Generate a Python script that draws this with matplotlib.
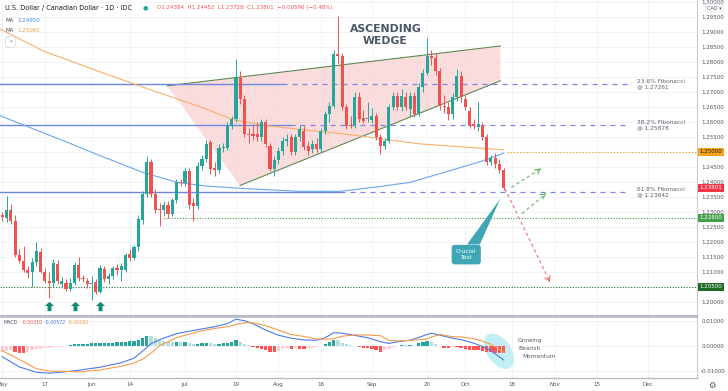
import numpy as np
import matplotlib.pyplot as plt
from matplotlib.patches import Polygon, Ellipse
from matplotlib.transforms import ScaledTranslation

plt.rcParams['font.family'] = ['DejaVu Sans']

# daily USD/CAD candles, bar 0 = 3 May 2021 ... bar 118 = 14 Oct 2021
opens = [
    1.2290, 1.2278, 1.2305, 1.2268, 1.2155, 1.2136, 1.2105, 1.2100, 1.2133, 1.2166,
    1.2100, 1.2069, 1.2063, 1.2127, 1.2058, 1.2063, 1.2044, 1.2063, 1.2122, 1.2079,
    1.2070, 1.2058, 1.2066, 1.2033, 1.2108, 1.2076, 1.2085, 1.2112, 1.2106, 1.2105,
    1.2160, 1.2145, 1.2183, 1.2271, 1.2360, 1.2465, 1.2360, 1.2310, 1.2305, 1.2321,
    1.2294, 1.2338, 1.2399, 1.2395, 1.2437, 1.2330, 1.2318, 1.2454, 1.2476, 1.2531,
    1.2447, 1.2439, 1.2513, 1.2513, 1.2587, 1.2609, 1.2747, 1.2675, 1.2559, 1.2559,
    1.2559, 1.2548, 1.2598, 1.2520, 1.2443, 1.2471, 1.2504, 1.2537, 1.2548, 1.2498,
    1.2548, 1.2570, 1.2520, 1.2509, 1.2526, 1.2509, 1.2570, 1.2626, 1.2653, 1.2825,
    1.2820, 1.2648, 1.2590, 1.2587, 1.2681, 1.2614, 1.2609, 1.2606, 1.2620, 1.2548,
    1.2520, 1.2537, 1.2648, 1.2687, 1.2648, 1.2681, 1.2642, 1.2687, 1.2630, 1.2715,
    1.2764, 1.2819, 1.2814, 1.2769, 1.2653, 1.2648, 1.2626, 1.2681, 1.2753, 1.2675,
    1.2637, 1.2592, 1.2581, 1.2587, 1.2548, 1.2465, 1.2478, 1.2460, 1.24384]
highs = [
    1.2300, 1.2351, 1.2325, 1.2290, 1.2175, 1.2185, 1.2120, 1.2145, 1.2200, 1.2178,
    1.2112, 1.2100, 1.2144, 1.2140, 1.2082, 1.2075, 1.2078, 1.2133, 1.2150, 1.2090,
    1.2080, 1.2085, 1.2075, 1.2122, 1.2120, 1.2095, 1.2120, 1.2125, 1.2130, 1.2162,
    1.2175, 1.2190, 1.2290, 1.2370, 1.2487, 1.2475, 1.2375, 1.2330, 1.2335, 1.2335,
    1.2345, 1.2410, 1.2410, 1.2445, 1.2445, 1.2345, 1.2465, 1.2490, 1.2540, 1.2540,
    1.2465, 1.2525, 1.2530, 1.2600, 1.2620, 1.2808, 1.2770, 1.2690, 1.2580, 1.2590,
    1.2600, 1.2610, 1.2610, 1.2530, 1.2485, 1.2515, 1.2550, 1.2560, 1.2560, 1.2560,
    1.2590, 1.2585, 1.2535, 1.2540, 1.2545, 1.2580, 1.2635, 1.2665, 1.2840, 1.2952,
    1.2830, 1.2660, 1.2620, 1.2700, 1.2700, 1.2640, 1.2665, 1.2645, 1.2630, 1.2560,
    1.2545, 1.2660, 1.2700, 1.2700, 1.2710, 1.2700, 1.2700, 1.2700, 1.2730, 1.2775,
    1.2880, 1.2840, 1.2830, 1.2780, 1.2690, 1.2665, 1.2695, 1.2775, 1.2770, 1.2690,
    1.2650, 1.2610, 1.2665, 1.2600, 1.2560, 1.2490, 1.2495, 1.2475, 1.24452]
lows = [
    1.2270, 1.2266, 1.2258, 1.2150, 1.2130, 1.2100, 1.2080, 1.2048, 1.2120, 1.2095,
    1.2062, 1.2013, 1.2050, 1.2060, 1.2045, 1.2035, 1.2036, 1.2055, 1.2070, 1.2065,
    1.2045, 1.2005, 1.2025, 1.2028, 1.2065, 1.2060, 1.2075, 1.2090, 1.2070, 1.2100,
    1.2135, 1.2140, 1.2170, 1.2260, 1.2350, 1.2350, 1.2295, 1.2251, 1.2285, 1.2280,
    1.2285, 1.2330, 1.2385, 1.2385, 1.2310, 1.2270, 1.2310, 1.2440, 1.2465, 1.2425,
    1.2420, 1.2430, 1.2500, 1.2505, 1.2575, 1.2600, 1.2660, 1.2550, 1.2530, 1.2540,
    1.2535, 1.2535, 1.2515, 1.2435, 1.2420, 1.2460, 1.2490, 1.2520, 1.2490, 1.2490,
    1.2535, 1.2505, 1.2490, 1.2495, 1.2500, 1.2500, 1.2560, 1.2600, 1.2645, 1.2795,
    1.2640, 1.2575, 1.2580, 1.2580, 1.2600, 1.2595, 1.2600, 1.2595, 1.2540, 1.2494,
    1.2510, 1.2530, 1.2640, 1.2640, 1.2635, 1.2640, 1.2620, 1.2615, 1.2620, 1.2700,
    1.2755, 1.2790, 1.2755, 1.2640, 1.2630, 1.2605, 1.2610, 1.2670, 1.2665, 1.2640,
    1.2580, 1.2575, 1.2570, 1.2540, 1.2455, 1.2455, 1.2445, 1.2430, 1.23728]
closes = [
    1.2283, 1.2305, 1.2268, 1.2155, 1.2136, 1.2105, 1.2096, 1.2133, 1.2168, 1.2100,
    1.2070, 1.2064, 1.2130, 1.2068, 1.2070, 1.2044, 1.2063, 1.2122, 1.2078, 1.2076,
    1.2058, 1.2064, 1.2033, 1.2111, 1.2076, 1.2085, 1.2112, 1.2106, 1.2118, 1.2155,
    1.2145, 1.2183, 1.2277, 1.2360, 1.2465, 1.2360, 1.2305, 1.2305, 1.2321, 1.2294,
    1.2338, 1.2399, 1.2395, 1.2437, 1.2321, 1.2318, 1.2454, 1.2476, 1.2526, 1.2443,
    1.2439, 1.2513, 1.2515, 1.2587, 1.2609, 1.2747, 1.2675, 1.2559, 1.2557, 1.2553,
    1.2548, 1.2598, 1.2526, 1.2443, 1.2471, 1.2504, 1.2537, 1.2542, 1.2498, 1.2548,
    1.2576, 1.2515, 1.2504, 1.2526, 1.2509, 1.2570, 1.2626, 1.2653, 1.2825, 1.2820,
    1.2648, 1.2587, 1.2587, 1.2681, 1.2609, 1.2603, 1.2614, 1.2620, 1.2548, 1.2520,
    1.2537, 1.2648, 1.2687, 1.2648, 1.2687, 1.2648, 1.2687, 1.2626, 1.2715, 1.2764,
    1.2819, 1.2814, 1.2769, 1.2653, 1.2648, 1.2626, 1.2681, 1.2753, 1.2681, 1.2648,
    1.2587, 1.2587, 1.2592, 1.2548, 1.2465, 1.2478, 1.2460, 1.2440, 1.23801]

# moving averages, read at a few bars
ma_blue_bars = [-0.5, 14.3, 23.0, 33.1, 41.1, 47.7, 56.0, 70.1, 79.5, 88.9, 96.0, 105.4, 112.5, 118]
ma_blue_vals = [1.2620, 1.2537, 1.2487, 1.2431, 1.2398, 1.2386, 1.2378, 1.2368, 1.2368, 1.2384,
                1.2398, 1.2437, 1.2467, 1.24950]
ma_orange_bars = [-0.5, 9.6, 23.0, 34.8, 46.5, 54.3, 62.1, 69.8, 81.8, 98.3, 118]
ma_orange_vals = [1.2909, 1.2836, 1.2766, 1.2707, 1.2650, 1.2607, 1.2587, 1.2575, 1.2557, 1.2526, 1.25065]

# MACD pane (values in thousandths)
macd_bars = [0, 4, 8, 11, 14, 18, 23, 28, 31, 33, 35, 37, 41, 46, 50, 53, 55, 57, 59, 62, 65, 68,
             71, 74, 76, 78, 80, 83, 86, 89, 91, 93, 96, 98, 100, 101, 103, 106, 108, 111, 113, 115, 118]
macd_line = [-4.4, -8.5, -10.6, -11.0, -10.6, -9.8, -8.6, -6.8, -5.0, -2.2, 0.8, 2.4, 4.8, 6.4, 7.6,
             8.8, 10.6, 10.0, 8.8, 6.2, 4.2, 3.0, 2.3, 2.2, 3.2, 5.2, 5.0, 4.1, 3.2, 1.6, 0.9, 1.6,
             2.2, 3.3, 4.5, 5.0, 4.2, 3.0, 2.4, 1.0, -0.3, -2.0, -5.72]
signal_line = [-2.0, -5.5, -9.2, -10.2, -10.2, -10.5, -9.7, -8.2, -6.9, -5.4, -3.0, 0.0, 3.2, 5.6,
               6.9, 7.6, 8.5, 9.2, 9.2, 8.0, 6.2, 4.5, 3.7, 2.7, 2.6, 2.8, 3.8, 4.3, 4.3, 4.0, 2.1,
               1.9, 2.1, 2.4, 2.7, 3.5, 4.5, 3.6, 3.5, 2.8, 1.8, 0.6, -2.62]
hist = [
    -2.4, -2.2, -1.9, -2.6, -3.0, -3.1, -2.5, -1.9, -1.4, -1.2,
    -1.0, -0.8, -0.6, -0.5, -0.4, -0.3, 0.3, 0.6, 0.7, 0.8,
    0.8, 0.9, 1.0, 1.1, 1.1, 1.2, 1.2, 1.3, 1.4, 1.6,
    1.7, 1.9, 2.4, 3.2, 4.0, 3.8, 3.0, 2.4, 2.0, 1.6,
    1.5, 1.6, 1.5, 1.6, 1.0, 0.6, 0.8, 1.0, 1.2, 0.9,
    0.7, 0.8, 0.9, 1.2, 1.5, 2.1, 1.6, 0.8, 0.3, -0.4,
    -0.8, -1.3, -1.8, -2.4, -2.7, -2.0, -1.4, -1.0, -1.5, -1.1,
    -1.3, -1.4, -1.0, -0.8, -0.5, -0.2, 0.6, 1.4, 2.4, 2.2,
    1.2, 0.6, 0.2, -0.2, -0.5, -0.8, -1.1, -1.3, -1.7, -2.4,
    -1.9, -1.2, -0.7, -0.3, 0.2, 0.1, 0.1, -0.1, 0.9, 1.3,
    1.8, 1.5, 0.8, -0.3, -0.8, -0.9, -0.6, -0.7, -1.1, -1.3,
    -1.6, -1.8, -1.9, -2.1, -2.4, -2.6, -2.8, -2.9, -3.1]

date_bars = [0, 10, 21, 30, 43, 55, 65, 75, 87, 100, 109, 120, 130, 140, 152]
date_labels = ['May', '17', 'Jun', '14', 'Jul', '19', 'Aug', '16', 'Sep', '20', 'Oct', '18', 'Nov', '15', 'Dec']

fib_levels = [1.27261, 1.25878, 1.23642]
fib_names = ['23.6%', '38.2%', '61.8%']
fib_solid_end = [65.8, 67.7, 79.5]
level_orange = 1.25000
level_green = 1.22800
level_dkgreen = 1.20500
last_close = 1.23801
arrow_bars = [11, 17, 23]

GREEN = '#26a69a'
RED = '#ef5350'
TXT = '#50535e'
X0, X1 = -0.54, 163.5

fig = plt.figure(figsize=(7.28, 3.91), dpi=100)
ax = fig.add_axes([0, 0.19182, 0.9574, 0.80818])
ax2 = fig.add_axes([0, 0.03325, 0.9574, 0.15601])

def px(x, y):
    return x / 728, 1 - y / 391

# ---- price pane
x = np.arange(len(closes))
o = np.array(opens); c = np.array(closes)
cols = np.where(c >= o, GREEN, RED)
ax.vlines(x, lows, highs, colors=cols, lw=0.7, zorder=4)
ax.bar(x, np.maximum(np.abs(c - o), 0.00012), bottom=np.minimum(o, c), width=0.72,
       color=cols, linewidth=0, zorder=5)

# ascending wedge
wedge = [(38.8, 1.27197), (117.2, 1.28525), (117.2, 1.27363), (55.96, 1.23876)]
ax.add_patch(Polygon(wedge, closed=True, fc='#fbd6d6', ec='none', alpha=0.85, zorder=1))
ax.plot([wedge[0][0], wedge[1][0]], [wedge[0][1], wedge[1][1]], color='#5f8a55', lw=0.8, zorder=2)
ax.plot([wedge[3][0], wedge[2][0]], [wedge[3][1], wedge[2][1]], color='#5f8a55', lw=0.8, zorder=2)

# fibonacci levels
for lvl, name, s_end in zip(fib_levels, fib_names, fib_solid_end):
    ax.plot([X0, s_end], [lvl, lvl], color='#6a88e3', lw=1.0, zorder=2)
    ax.plot([s_end, 147.8], [lvl, lvl], color='#8083e6', lw=0.9, ls=(0, (4, 4)), zorder=2)
    ax.text(149.4, lvl, f'{name} Fibonacci\n@ {lvl:.5f}', fontsize=4.2, color='#5d606b',
            va='center', ha='left', linespacing=1.05, zorder=6)

ax.hlines(level_orange, 118.8, X1, colors='#f5a623', lw=0.9, linestyles=(0, (1, 1.5)), zorder=2)
ax.hlines(level_green, 37.8, X1, colors='#43a047', lw=0.8, linestyles=(0, (1, 1.5)), zorder=2)
ax.hlines(level_dkgreen, X0, X1, colors='#2e7d32', lw=0.8, linestyles=(0, (1, 1.5)), zorder=2)

ax.plot(ma_blue_bars, ma_blue_vals, color='#6aa6ec', lw=0.8, zorder=3)
ax.plot(ma_orange_bars, ma_orange_vals, color='#f5b06a', lw=0.8, zorder=3)

ax.text(383 / 4.248, 1.28891, 'ASCENDING\nWEDGE', ha='center', va='center', fontsize=7.8,
        fontweight='bold', color='#4a5866', linespacing=1.25, zorder=6)

# projected paths
ax.plot([118.3, 128.9], [1.23766, 1.20654], color='#e57373', lw=0.8, ls=(0, (3, 2.5)), zorder=6)
ax.annotate('', xy=(128.9, 1.20654), xytext=(128.5, 1.2078),
            arrowprops=dict(arrowstyle='->,head_length=0.35,head_width=0.2', color='#e57373', lw=0.8))
for (xa, ya), (xb, yb) in [((119.8, 1.23809), (126.8, 1.24440)), ((122.3, 1.22936), (128.0, 1.23610))]:
    ax.plot([xa, xb], [ya, yb], color='#66bb6a', lw=0.8, ls=(0, (3, 2.5)), zorder=6)
    ax.annotate('', xy=(xb, yb), xytext=(xb - 0.6, yb - 0.0006),
                arrowprops=dict(arrowstyle='->,head_length=0.35,head_width=0.2', color='#66bb6a', lw=0.8))

# crucial test callout
ax.add_patch(Polygon([(109.4, 1.2191), (112.4, 1.2191), (117.2, 1.23434)], closed=True,
                     fc='#3fa6b6', ec='none', zorder=7))
ax.text(109.2, 1.2157, 'Crucial\nTest', ha='center', va='center', fontsize=4.2, color='white',
        linespacing=1.2, zorder=8,
        bbox=dict(boxstyle='round,pad=0.75,rounding_size=0.5', fc='#3fa6b6', ec='none'))

# bottom arrows
arrow_marker = [(0, 1), (-1, 0.1), (-0.42, 0.1), (-0.42, -1), (0.42, -1), (0.42, 0.1), (1, 0.1), (0, 1)]
ax.scatter(arrow_bars, [1.1987] * len(arrow_bars), marker=arrow_marker, s=45, color='#138a72',
           zorder=6, linewidths=0)

ax.set_xlim(X0, X1)
ax.set_ylim(1.19525, 1.30057)
yt = np.round(np.arange(1.200, 1.3001, 0.005), 3)
ylab = ['' if v in (1.25, 1.205) else f'{v:.5f}' for v in yt]
ax.set_yticks(yt)
ax.set_yticklabels(ylab)
ax.yaxis.tick_right()
ax.tick_params(axis='y', length=0, pad=3, labelsize=4, labelcolor=TXT)
ax.set_xticks(date_bars)
ax.tick_params(axis='x', length=0, labelbottom=False)
ax.grid(color='#eef1f6', lw=0.6, zorder=0)
ax.set_axisbelow(True)
for s in ['top', 'left']:
    ax.spines[s].set_visible(False)
ax.spines['right'].set_color('#c9ccd4')
ax.spines['right'].set_linewidth(0.8)
ax.spines['bottom'].set_color('#b8bbc4')
ax.spines['bottom'].set_linewidth(1.6)

tr = ax.get_yaxis_transform()
for lvl, fc, tc in [(level_orange, '#f7a21b', '#131722'), (last_close, '#f23645', 'white'),
                    (level_green, '#43a047', 'white'), (level_dkgreen, '#1e6b26', 'white')]:
    ax.text(1.004, lvl, f'{lvl:.5f}', transform=tr, fontsize=4, color=tc, va='center', ha='left',
            bbox=dict(boxstyle='square,pad=0.25', fc=fc, ec='none'), clip_on=False, zorder=9)

# ---- MACD pane
hv = np.array(hist) * 1e-3
prev = np.concatenate([[hv[0]], hv[:-1]])
hcols = np.where(hv >= 0, np.where(hv >= prev, GREEN, '#b2dfdb'),
                 np.where(hv < prev, '#ff5252', '#ffcdd2'))
ell = Ellipse((0, 0), width=0.40, height=0.24, angle=-55, fc='#b2ebf2', ec='none', alpha=0.8,
              transform=fig.dpi_scale_trans + ScaledTranslation(116.9, -0.0022, ax2.transData),
              zorder=1)
ax2.add_patch(ell)
ax2.bar(x, hv, width=0.8, color=hcols, linewidth=0, zorder=2)
ax2.plot(macd_bars, np.array(macd_line) * 1e-3, color='#4f79e8', lw=0.8, zorder=3)
ax2.plot(macd_bars, np.array(signal_line) * 1e-3, color='#f39c4a', lw=0.8, zorder=3)
ax2.text(121.4, 0.0019, 'Growing', fontsize=4.2, color='#555b66', va='center')
ax2.text(121.4, -0.0012, 'Bearish', fontsize=4.2, color='#555b66', va='center')
ax2.text(122.3, -0.0044, 'Momentum', fontsize=4.2, color='#555b66', va='center')

ax2.set_xlim(X0, X1)
ax2.set_ylim(-0.01292, 0.01148)
ax2.set_yticks([0.01, 0.0, -0.01])
ax2.set_yticklabels(['0.01000', '0.00000', '-0.01000'])
ax2.yaxis.tick_right()
ax2.tick_params(axis='y', length=0, pad=3, labelsize=4, labelcolor=TXT)
ax2.set_xticks(date_bars)
ax2.set_xticklabels(date_labels)
ax2.tick_params(axis='x', length=0, pad=3, labelsize=4, labelcolor=TXT)
ax2.grid(color='#eef1f6', lw=0.6, zorder=0)
ax2.set_axisbelow(True)
ax2.spines['left'].set_visible(False)
ax2.spines['top'].set_color('#b8bbc4')
ax2.spines['top'].set_linewidth(1.2)
ax2.spines['bottom'].set_color('#b8bbc4')
ax2.spines['bottom'].set_linewidth(1.0)
ax2.spines['right'].set_color('#c9ccd4')
ax2.spines['right'].set_linewidth(0.8)

# ---- header texts
fig.text(*px(5, 8), 'U.S. Dollar / Canadian Dollar · 1D · IDC', fontsize=4.7, color='#131722', va='center')
fig.text(*px(145, 7.5), '●', fontsize=4.5, color='#26a69a', va='center', ha='center')
fig.text(*px(157, 8), 'O1.24384  H1.24452  L1.23728  C1.23801  −0.00596 (−0.48%)', fontsize=4.0,
         color='#ef5350', va='center')
fig.text(*px(5, 20), 'MA', fontsize=4, color=TXT, va='center')
fig.text(*px(17, 20), '1.24950', fontsize=4, color='#3d8bef', va='center')
fig.text(*px(5, 31), 'MA', fontsize=4, color=TXT, va='center')
fig.text(*px(17, 31), '1.25065', fontsize=4, color='#f39c4a', va='center')
fig.text(*px(10.5, 42), '^', fontsize=4, color=TXT, va='center', ha='center',
         bbox=dict(boxstyle='round,pad=0.5', fc='white', ec='#d1d4dc', lw=0.5))
fig.text(*px(4, 323), 'MACD', fontsize=3.4, color=TXT, va='center')
fig.text(*px(22, 323), '-0.00310', fontsize=3.4, color='#ef5350', va='center')
fig.text(*px(45, 323), '-0.00572', fontsize=3.4, color='#4f79e8', va='center')
fig.text(*px(68, 323), '-0.00262', fontsize=3.4, color='#f39c4a', va='center')
fig.text(*px(714, 8), 'CAD ▾', fontsize=3.6, color=TXT, va='center', ha='center',
         bbox=dict(boxstyle='round,pad=0.3', fc='white', ec='#d1d4dc', lw=0.4))
fig.text(*px(712, 385), '⚙', fontsize=6, color=TXT, va='center', ha='center')

fig.savefig('out.png', dpi=100)
